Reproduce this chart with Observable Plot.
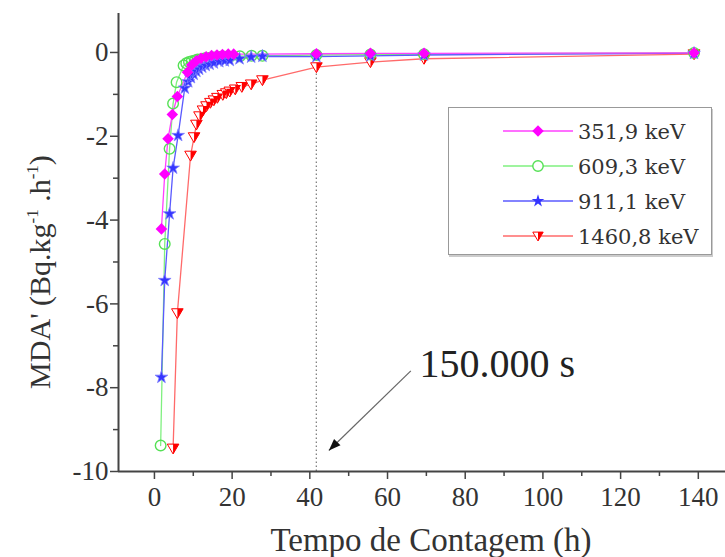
<!DOCTYPE html>
<html><head><meta charset="utf-8">
<script src="https://cdn.jsdelivr.net/npm/d3@7"></script>
<script src="https://cdn.jsdelivr.net/npm/@observablehq/plot@0.6"></script>
<style>
body{margin:0;background:#fff;}
#wrap{position:relative;width:725px;height:557px;overflow:hidden;background:#fff;}
#wrap svg text{font-family:"Liberation Serif","Times New Roman",serif;}
#legend{position:absolute;left:448px;top:107px;width:262px;height:146px;border:1.5px solid #999;box-shadow:1px 2px 0 #ccc;background:#fff;}
#legend svg text{font-family:"DejaVu Serif",serif;}
</style></head><body><div id="wrap"></div>
<script>
// ---- data (counting time in hours, MDA' values) ----
const seriesNames = ["351,9 keV", "609,3 keV", "911,1 keV", "1460,8 keV"];

const t351 = [1.8, 2.65, 3.5, 4.6, 5.9, 8.5, 9.6, 10.8, 12.0, 13.3, 14.7, 16.1, 17.5, 19.0, 20.4, 41.7, 55.6, 69.4, 138.9];
const v351 = [-4.21, -2.9, -2.06, -1.48, -1.05, -0.47, -0.3, -0.2, -0.14, -0.1, -0.07, -0.06, -0.05, -0.04, -0.04, -0.03, -0.02, -0.02, -0.01];

const t609 = [1.6, 2.65, 3.9, 4.8, 5.7, 7.5, 8.2, 8.9, 9.6, 10.4, 11.1, 12.0, 13.0, 14.0, 15.3, 16.7, 18.1, 19.4, 22.0, 25.0, 27.8, 41.7, 55.6, 69.4, 138.9];
const v609 = [-9.38, -4.57, -2.3, -1.22, -0.71, -0.31, -0.26, -0.23, -0.21, -0.19, -0.17, -0.16, -0.14, -0.13, -0.12, -0.11, -0.1, -0.1, -0.09, -0.08, -0.08, -0.06, -0.05, -0.04, -0.01];

const t911 = [1.8, 2.65, 3.9, 4.8, 6.1, 7.8, 8.7, 9.4, 10.1, 10.8, 11.5, 12.3, 13.2, 14.2, 15.3, 16.7, 18.1, 19.4, 21.9, 24.9, 27.8, 41.7, 55.6, 69.4, 138.9];
const v911 = [-7.75, -5.44, -3.85, -2.76, -1.98, -0.85, -0.7, -0.6, -0.52, -0.45, -0.4, -0.35, -0.31, -0.28, -0.25, -0.22, -0.2, -0.19, -0.15, -0.11, -0.09, -0.1, -0.08, -0.06, -0.02];

const t1460 = [4.8, 5.9, 9.3, 10.2, 10.8, 11.6, 12.5, 13.4, 14.4, 15.3, 16.2, 17.6, 18.5, 19.4, 20.8, 22.5, 24.9, 27.8, 41.7, 55.6, 69.4, 138.9];
const v1460 = [-9.45, -6.22, -2.46, -2.02, -1.72, -1.52, -1.38, -1.28, -1.2, -1.14, -1.08, -1.01, -0.97, -0.93, -0.88, -0.82, -0.76, -0.66, -0.35, -0.23, -0.15, -0.04];

const xTicks = [0, 20, 40, 60, 80, 100, 120, 140];
const xMinor = [10, 30, 50, 70, 90, 110, 130];
const yTicks = [0, -2, -4, -6, -8, -10];
const yMinor = [-1, -3, -5, -7, -9];

// annotation: 150.000 s marker
const markTime = [41.67];
const markTop = [-0.35];
const annText = ["150.000 s"];
const arrowFrom = [{x: 66.0, y: -7.6}];
const arrowTo = [{x: 44.9, y: -9.5}];

// ---- styling ----
const lineColors = ["#ff40ff", "#7ff07f", "#5a5aff", "#ff6a6a"];
const markColors = ["#ff00ff", "#55e055", "#3535ff", "#ff0000"];

const triDown = {draw(ctx, size){ const r = Math.sqrt(size/Math.PI); ctx.moveTo(-r, -r*0.75); ctx.lineTo(r, -r*0.75); ctx.lineTo(0, r*0.95); ctx.closePath(); }};
const triHalf = {draw(ctx, size){ const r = Math.sqrt(size/Math.PI); ctx.moveTo(0, -r*0.75); ctx.lineTo(r, -r*0.75); ctx.lineTo(0, r*0.95); ctx.closePath(); }};
const headSym = {draw(ctx, size){ const r = Math.sqrt(size/Math.PI); ctx.moveTo(0, 0); ctx.lineTo(-r*0.65, r*1.7); ctx.lineTo(r*0.65, r*1.7); ctx.closePath(); }};

const mk = (name, ts, vs) => ts.map((t, i) => ({series: name, t, v: vs[i]}));
const s351 = mk(seriesNames[0], t351, v351);
const s609 = mk(seriesNames[1], t609, v609);
const s911 = mk(seriesNames[2], t911, v911);
const s1460 = mk(seriesNames[3], t1460, v1460);

const axisColor = "#444";
const font = "'Liberation Serif', 'Times New Roman', serif";
const xMin = -9.25, xMax = 147, yMin = -10, yMax = 0.93;

const plot = Plot.plot({
  width: 725, height: 557,
  marginLeft: 118, marginRight: 0, marginTop: 13, marginBottom: 86,
  x: {domain: [xMin, xMax]},
  y: {domain: [yMin, yMax]},
  style: {fontFamily: font, fontSize: "27px", color: "#333", background: "white", overflow: "visible"},
  marks: [
    // minor ticks
    Plot.axisX(xMinor, {tickSize: 5, text: null, stroke: axisColor, strokeWidth: 1.5, label: null}),
    Plot.axisY(yMinor, {tickSize: 5, text: null, stroke: axisColor, strokeWidth: 1.5, label: null}),
    // major ticks
    Plot.axisX(xTicks, {tickSize: 8, text: null, stroke: axisColor, strokeWidth: 1.5, label: null}),
    Plot.axisY(yTicks, {tickSize: 8, text: null, stroke: axisColor, strokeWidth: 1.5, label: null}),
    // tick labels
    Plot.text(xTicks, {x: d => d, y: yMin, dy: 26, text: d => String(d), lineAnchor: "middle", textAnchor: "middle", fontSize: 27, fontFamily: font, fill: "#333"}),
    Plot.text(yTicks, {x: xMin, y: d => d, dx: -10, text: d => String(d), lineAnchor: "middle", textAnchor: "end", fontSize: 27, fontFamily: font, fill: "#333"}),
    // dotted marker line
    Plot.ruleX(markTime, {y1: yMin, y2: markTop[0], stroke: "#777", strokeWidth: 1.2, strokeDasharray: "1.5,2.5"}),
    // series lines
    Plot.line(s609, {x: "t", y: "v", stroke: lineColors[1], strokeWidth: 1.3}),
    Plot.line(s911, {x: "t", y: "v", stroke: lineColors[2], strokeWidth: 1.3}),
    Plot.line(s1460, {x: "t", y: "v", stroke: lineColors[3], strokeWidth: 1.3}),
    Plot.line(s351, {x: "t", y: "v", stroke: lineColors[0], strokeWidth: 1.3}),
    // markers
    Plot.dot(s1460, {x: "t", y: "v", symbol: triDown, r: 5.8, fill: "white", stroke: markColors[3], strokeWidth: 1}),
    Plot.dot(s1460, {x: "t", y: "v", symbol: triHalf, r: 5.8, fill: markColors[3]}),
    Plot.dot(s609, {x: "t", y: "v", symbol: "circle", r: 5.3, fill: "none", stroke: markColors[1], strokeWidth: 1.4}),
    Plot.dot(s911, {x: "t", y: "v", symbol: "star", r: 4, fill: markColors[2], stroke: "#8080ff", strokeWidth: 0.8}),
    Plot.dot(s351, {x: "t", y: "v", symbol: "diamond2", r: 5.2, fill: markColors[0]}),
    // axis lines
    Plot.ruleY([yMin], {stroke: axisColor, strokeWidth: 2}),
    Plot.ruleX([xMin], {stroke: axisColor, strokeWidth: 2}),
    // annotation arrow
    Plot.link(arrowFrom.map((d, i) => ({x1: d.x, y1: d.y, x2: arrowTo[i].x, y2: arrowTo[i].y})), {x1: "x1", y1: "y1", x2: "x2", y2: "y2", stroke: "#666", strokeWidth: 1.2}),
    Plot.dot(arrowTo, {x: "x", y: "y", symbol: headSym, r: 7, fill: "#111", rotate: 225}),
    Plot.text(annText, {x: 68.2, y: -7.45, text: d => d, textAnchor: "start", fontSize: 40, fill: "#222", fontFamily: font})
  ]
});

const wrap = document.getElementById("wrap");
wrap.appendChild(plot);

// axis titles
const svg = d3.select(plot);
svg.append("text")
  .attr("x", 431).attr("y", 551)
  .attr("text-anchor", "middle")
  .attr("font-size", 33).attr("fill", "#333")
  .text("Tempo de Contagem (h)");

const yt = svg.append("text")
  .attr("transform", "translate(50,272) rotate(-90)")
  .attr("text-anchor", "middle")
  .attr("font-size", 30).attr("fill", "#333");
yt.append("tspan").text("MDA' (Bq.kg");
yt.append("tspan").attr("font-size", 17).attr("dy", -12).text("-1");
yt.append("tspan").attr("dy", 12).text(" .h");
yt.append("tspan").attr("font-size", 17).attr("dy", -12).text("-1");
yt.append("tspan").attr("dy", 12).text(")");

// legend
const leg = d3.select(wrap).append("div").attr("id", "legend");
const lsvg = leg.append("svg").attr("width", 262).attr("height", 146);
const rowY = i => 23 + i * 35;
const syms = [d3.symbolDiamond2, d3.symbolCircle, d3.symbolStar, triDown];
seriesNames.forEach((name, i) => {
  const g = lsvg.append("g").attr("transform", `translate(0,${rowY(i)})`);
  g.append("line").attr("x1", 54).attr("x2", 124).attr("stroke", lineColors[i]).attr("stroke-width", 1.3);
  const sg = g.append("g").attr("transform", "translate(89,0)");
  const size = Math.PI * (i === 2 ? 4 : 5.2) ** 2;
  if (i === 3) {
    sg.append("path").attr("d", d3.symbol(triDown, size)()).attr("fill", "white").attr("stroke", markColors[3]);
    sg.append("path").attr("d", d3.symbol(triHalf, size)()).attr("fill", markColors[3]);
  } else if (i === 1) {
    sg.append("path").attr("d", d3.symbol(syms[i], size)()).attr("fill", "white").attr("stroke", markColors[1]).attr("stroke-width", 1.4);
  } else {
    sg.append("path").attr("d", d3.symbol(syms[i], size)()).attr("fill", markColors[i]);
  }
  g.append("text").attr("x", 129).attr("y", 8).attr("font-size", 21).attr("fill", "#333").text(name);
});
</script>
</body></html>
